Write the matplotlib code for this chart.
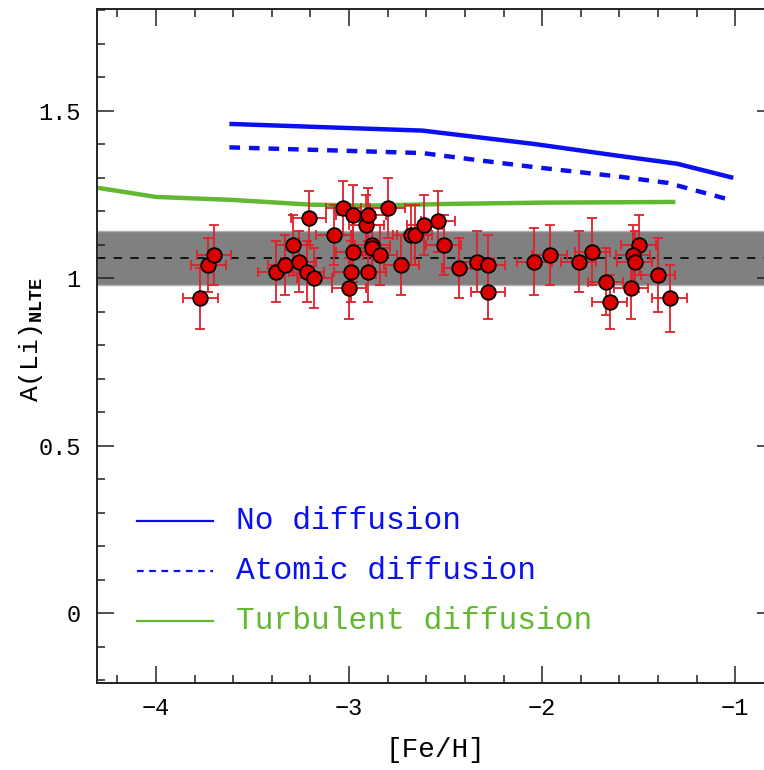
"""Li abundance vs [Fe/H] with diffusion model tracks."""

import matplotlib
matplotlib.use("Agg")
import matplotlib.pyplot as plt
from matplotlib.ticker import MultipleLocator

# ------------------------------------------------------------------ #
# Data
# ------------------------------------------------------------------ #
feh = [-3.77, -3.73, -3.70, -3.38, -3.33, -3.29, -3.26, -3.22, -3.21, -3.18,
       -3.08, -3.03, -3.00, -2.99, -2.98, -2.98, -2.91, -2.90, -2.90, -2.88,
       -2.88, -2.84, -2.80, -2.73, -2.68, -2.66, -2.61, -2.54, -2.51, -2.43,
       -2.34, -2.28, -2.28, -2.04, -1.96, -1.81, -1.74, -1.67, -1.65, -1.54,
       -1.50, -1.53, -1.52, -1.40, -1.34]
ali = [0.94, 1.04, 1.07, 1.02, 1.04, 1.10, 1.05, 1.02, 1.18, 1.00,
       1.13, 1.21, 0.97, 1.02, 1.19, 1.08, 1.16, 1.19, 1.02, 1.10,
       1.09, 1.07, 1.21, 1.04, 1.13, 1.13, 1.16, 1.17, 1.10, 1.03,
       1.05, 1.04, 0.96, 1.05, 1.07, 1.05, 1.08, 0.99, 0.93, 0.97,
       1.10, 1.07, 1.05, 1.01, 0.94]
feh_err = [0.09] * len(feh)
ali_err = [0.09, 0.08, 0.09, 0.09, 0.09, 0.09, 0.09, 0.09, 0.08, 0.09,
           0.09, 0.08, 0.09, 0.09, 0.09, 0.09, 0.09, 0.08, 0.09, 0.09,
           0.09, 0.09, 0.09, 0.09, 0.09, 0.09, 0.09, 0.09, 0.09, 0.09,
           0.09, 0.09, 0.08, 0.10, 0.09, 0.09, 0.10, 0.10, 0.08, 0.09,
           0.09, 0.09, 0.09, 0.11, 0.10]

# Model tracks
nodiff_feh = [-3.62, -2.62, -2.04, -1.62, -1.30, -1.01]
nodiff_ali = [1.461, 1.441, 1.401, 1.367, 1.342, 1.300]
atomic_feh = [-3.62, -2.62, -2.35, -2.04, -1.62, -1.35, -1.05]
atomic_ali = [1.391, 1.374, 1.354, 1.332, 1.305, 1.285, 1.238]
turb_feh = [-4.30, -4.00, -3.60, -3.20, -2.90, -2.50, -2.00, -1.31]
turb_ali = [1.270, 1.243, 1.234, 1.220, 1.217, 1.222, 1.226, 1.228]

# Spite plateau: mean and spread
plateau_mean = 1.06
plateau_lo = 0.98
plateau_hi = 1.14

legend_labels = ["No diffusion", "Atomic diffusion", "Turbulent diffusion"]

BLUE = "#0a10ee"
GREEN = "#62b832"
RED = "#dd0000"
ERR_RED = "#e0202a"
FONT = "Liberation Mono"


def main() -> None:
    plt.rcParams["font.family"] = [FONT, "DejaVu Sans"]
    plt.rcParams["mathtext.fontset"] = "custom"
    plt.rcParams["mathtext.rm"] = FONT
    plt.rcParams["mathtext.bf"] = FONT + ":bold"

    fig = plt.figure(figsize=(7.64, 7.70), dpi=100)
    ax = fig.add_axes([0.1274, 0.113, 0.8857, 0.8753])

    # plateau band + mean
    ax.axhspan(plateau_lo, plateau_hi, facecolor="#808080",
               edgecolor="#b0b0b0", lw=1.0, zorder=1)
    ax.axhline(plateau_mean, color="black", lw=1.2,
               ls=(0, (5, 5)), zorder=2)

    # model tracks
    ax.plot(nodiff_feh, nodiff_ali, color=BLUE, lw=3.2, zorder=3,
            solid_capstyle="butt")
    ax.plot(atomic_feh, atomic_ali, color=BLUE, lw=3.2, zorder=3,
            ls=(0, (2.4, 2.0)))
    ax.plot(turb_feh, turb_ali, color=GREEN, lw=3.2, zorder=3,
            solid_capstyle="butt")

    # stars
    ax.errorbar(feh, ali, xerr=feh_err, yerr=ali_err, fmt="none",
                ecolor=ERR_RED, elinewidth=1.3, capsize=3.5,
                capthick=1.3, zorder=4)
    ax.plot(feh, ali, "o", ms=10.5, mfc=RED, mec="black", mew=1.3,
            ls="none", zorder=5)

    # hand-drawn legend, as in the original figure
    styles = [dict(color=BLUE, ls="-"),
              dict(color=BLUE, ls=(0, (3, 2.5))),
              dict(color=GREEN, ls="-")]
    text_colors = [BLUE, BLUE, GREEN]
    rows_y = [0.240, 0.166, 0.092]
    for lab, st, tc, yy in zip(legend_labels, styles, text_colors, rows_y):
        ax.plot([0.0587, 0.171], [yy, yy], transform=ax.transAxes,
                lw=1.6, **st)
        ax.text(0.205, yy, lab, transform=ax.transAxes, color=tc,
                fontsize=22.5, va="center", ha="left")

    # axes
    ax.set_xlim(-4.304, -0.799)
    ax.set_ylim(-0.208, 1.804)
    ax.set_xticks([-4, -3, -2, -1], labels=["\u22124", "\u22123", "\u22122", "\u22121"])
    ax.set_yticks([0, 0.5, 1, 1.5], labels=["0", "0.5", "1", "1.5"])
    ax.xaxis.set_minor_locator(MultipleLocator(0.2))
    ax.yaxis.set_minor_locator(MultipleLocator(0.1))
    ax.tick_params(which="both", direction="in", top=True, right=True,
                   width=1.1, color="#222222", labelsize=17)
    ax.tick_params(which="major", length=12)
    ax.tick_params(which="minor", length=6)
    ax.tick_params(axis="x", pad=10)
    ax.tick_params(axis="y", pad=12)
    for sp in ax.spines.values():
        sp.set_linewidth(1.4)
        sp.set_color("#222222")

    ax.set_xlabel("[Fe/H]", fontsize=20, labelpad=12)
    ax.set_ylabel(r"A(Li)$_{\mathbf{NLTE}}$", fontsize=19)
    ax.yaxis.set_label_coords(-0.077, 0.51)

    fig.savefig("out.png", dpi=100)
    plt.close(fig)


if __name__ == "__main__":
    main()
